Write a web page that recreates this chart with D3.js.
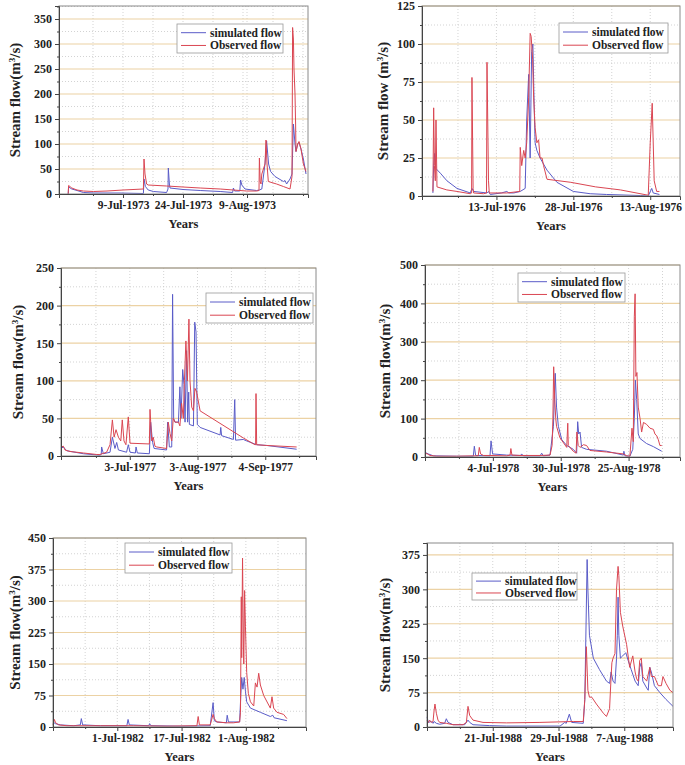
<!DOCTYPE html>
<html>
<head>
<meta charset="utf-8">
<script src="https://cdn.jsdelivr.net/npm/d3@7"></script>
<style>
  body { margin: 0; background: #fff; }
  svg { display: block; }
  text { font-family: "Liberation Serif", "Times New Roman", serif; font-weight: bold; fill: #222; }
</style>
</head>
<body>
<script>
// ---- data: [day since panel start, flow m3/s] ----
var ticks1973 = ['9-Jul-1973', '24-Jul-1973', '9-Aug-1973'];
var tickDays1973 = [16, 31, 47];
var yTicks1973 = [0, 50, 100, 150, 200, 250, 300, 350];
var obs1973 = [[2.3,0],[2.4,17],[2.9,14],[3.2,12],[4.5,8],[6.1,6],[8.6,5],[12,6],[16,8],[21.1,10],[21.25,70],[21.5,40],[21.9,20],[22.3,18],[26.9,16],[31,14],[35.3,12],[40.3,10],[43.6,8],[46.9,6],[49.4,6],[50.0,7],[50.1,72],[50.3,25],[50.5,20],[50.7,40],[51.5,60],[51.75,108],[52.0,60],[52.33,25],[54.4,20],[56.1,15],[57.75,10],[58.25,35],[58.4,333],[58.6,310],[58.75,250],[59,200],[59.15,140],[59.25,85],[59.67,100],[60,105],[60.5,90],[61.1,60],[61.75,45]];
var sim1973 = [[2.3,0],[2.4,14],[3.2,10],[4.5,7],[6.1,3],[8.6,2],[15,2],[21.1,1],[21.25,30],[21.6,15],[22.3,8],[23.6,5],[26.9,3],[27.25,10],[27.33,52],[27.6,20],[27.75,12],[31,9],[35.3,7],[40.3,5],[43.4,3],[43.6,12],[43.9,6],[45.2,6],[45.4,28],[45.7,18],[46.5,10],[49.4,7],[50.1,8],[50.7,10],[51.5,60],[51.9,106],[52.4,60],[52.9,45],[54,35],[56.1,25],[56.5,27],[56.9,20],[57.75,30],[58.25,40],[58.6,140],[59,100],[59.25,85],[59.67,100],[60,103],[60.5,90],[61.1,70],[61.75,40]];

var ticks1976 = ['13-Jul-1976', '28-Jul-1976', '13-Aug-1976'];
var tickDays1976 = [15, 30.5, 46];
var yTicks1976 = [0, 25, 50, 75, 100, 125];
var obs1976 = [[2.2,3],[2.35,58],[2.5,20],[2.68,10],[2.82,50],[3.02,6],[5.0,4],[7.05,3],[9.73,1.5],[10.0,2],[10.07,78],[10.3,5],[10.4,2],[12.4,1.5],[13.0,2],[13.1,88],[13.4,10],[13.56,2],[17.1,2],[19.7,3],[19.8,32],[20.1,20],[20.5,30],[20.8,25],[21.1,35],[21.5,65],[21.8,107],[22.0,105],[22.3,90],[22.5,65],[22.8,45],[23.15,35],[23.5,37],[23.8,25],[24.2,25],[24.5,20],[25.2,11],[30,9],[35,6],[40,4],[45.6,0.5],[46.0,35],[46.4,61],[46.8,10],[47.3,3],[47.85,3]];
var sim1976 = [[2.2,2],[2.35,20],[2.55,28],[2.82,18],[3.7,15],[5.03,10],[7.05,5],[9.73,2],[10.07,5],[10.4,3],[13.1,2],[13.4,3],[13.76,1],[16,2],[17.1,3],[17.5,2],[18.5,2],[19.8,3],[20.8,5],[21.1,50],[21.5,80],[21.8,25],[22.1,95],[22.35,100],[22.6,60],[22.8,35],[23.15,30],[23.8,25],[25.2,17],[27.2,9],[30.5,3],[33.9,1.5],[37.2,1],[44,0.3],[45.6,0],[46.3,5],[46.6,2],[47.85,1]];

var ticks1977 = ['3-Jul-1977', '3-Aug-1977', '4-Sep-1977'];
var tickDays1977 = [32, 63.5, 95];
var yTicks1977 = [0, 50, 100, 150, 200, 250];
var obs1977 = [[0,12],[1.09,13],[1.86,8],[4.19,6],[10.4,4],[16.6,2],[18.1,2],[21.2,5],[22.8,15],[23.9,48],[24.7,25],[25.6,35],[26.7,25],[27.8,20],[28.5,48],[29.3,20],[30.2,15],[31.3,52],[32.1,17],[41.1,16],[41.4,62],[42.2,20],[42.9,25],[43.7,13],[44.5,12],[49.1,10],[49.9,45],[50.7,30],[51.5,20],[52.2,50],[53.0,45],[54.6,45],[55.3,40],[56.1,70],[56.9,50],[57.4,100],[58.1,153],[58.8,100],[59.5,182],[60.0,100],[60.8,65],[61.6,60],[62.3,90],[63.1,85],[64.7,60],[84.8,24],[90.2,15],[90.5,15],[90.7,83],[91.0,15],[95.7,14],[109.6,12]];
var sim1977 = [[0,10],[1.09,12],[2.64,7],[10.4,3],[18.1,1],[18.7,2],[18.9,12],[19.7,3],[22.8,5],[23.9,25],[25.1,10],[25.9,18],[26.7,8],[30.5,5],[31.3,15],[32.1,5],[34.6,4],[34.9,12],[35.5,4],[41.1,3],[41.7,45],[42.6,18],[43.3,10],[49.1,8],[49.6,45],[50.4,12],[51.5,12],[51.9,215],[52.4,50],[53.0,45],[54.6,45],[55.3,92],[55.8,50],[56.6,115],[57.2,95],[57.7,45],[58.4,140],[58.9,45],[59.4,85],[59.7,42],[61.6,40],[62.2,178],[62.8,165],[63.4,42],[64.7,38],[74.0,28],[74.3,38],[74.7,27],[80.2,22],[80.8,75],[81.2,21],[84.8,22],[86.4,20],[91.0,15],[95.7,14],[109.6,9]];

var ticks1978 = ['4-Jul-1978', '30-Jul-1978', '25-Aug-1978'];
var tickDays1978 = [26, 52, 78];
var yTicks1978 = [0, 100, 200, 300, 400, 500];
var obs1978 = [[0,10],[0.9,8],[1.92,4],[4.47,2],[12.1,2],[18.5,3],[20.4,3],[20.8,25],[21.3,8],[22.4,4],[24.9,4],[31.3,3],[32.6,5],[32.9,22],[33.3,5],[36.4,4],[44.1,4],[47.9,5],[48.7,30],[49.0,100],[49.3,235],[49.7,150],[50.1,100],[50.4,80],[51.7,50],[54.3,25],[54.7,88],[54.9,30],[56.8,15],[57.9,10],[58.2,65],[58.7,30],[59.4,25],[60.7,32],[61.9,30],[63.2,17],[69.6,13],[76.0,8],[77.3,3],[78.5,2],[79.3,75],[79.8,40],[80.2,365],[80.5,425],[80.8,210],[81.2,220],[81.7,130],[82.4,100],[83.0,65],[83.7,90],[84.9,85],[86.2,75],[87.5,72],[88.1,60],[88.8,55],[89.4,45],[90.0,30],[90.7,30]];
var sim1978 = [[0,12],[1.28,8],[3.19,3],[12.1,2],[18.5,2],[18.9,28],[19.4,4],[24.9,3],[25.3,42],[25.9,8],[31.3,5],[36.7,4],[37.0,8],[37.7,3],[44.1,3],[44.7,10],[45.3,3],[47.9,5],[49.2,80],[49.6,160],[49.9,218],[50.4,130],[51.1,80],[52.4,45],[54.3,30],[56.8,20],[58.1,10],[58.5,92],[58.9,60],[59.4,65],[60.0,25],[61.9,20],[69.6,15],[76.0,5],[76.2,15],[76.6,3],[78.5,2],[79.6,20],[80.2,100],[80.6,200],[81.1,150],[81.7,60],[82.4,48],[84.9,35],[87.5,27],[90.7,15]];

var ticks1982 = ['1-Jul-1982', '17-Jul-1982', '1-Aug-1982'];
var tickDays1982 = [15.5, 31, 46.5];
var yTicks1982 = [0, 75, 150, 225, 300, 375, 450];
var obs1982 = [[0,5],[0.32,18],[0.64,10],[1.37,5],[3.37,3],[11.4,3],[19.4,3],[27.5,2],[34.7,3],[35.0,25],[35.3,5],[37.9,5],[38.6,30],[38.9,20],[39.5,12],[41.9,10],[43.5,10],[45.0,12],[45.2,35],[45.4,310],[45.5,165],[45.7,402],[45.9,200],[46.0,150],[46.2,325],[46.4,240],[46.7,130],[47.1,80],[47.6,60],[48.4,50],[48.8,105],[49.2,95],[49.6,128],[50.0,100],[50.8,75],[52.4,45],[52.8,72],[53.2,45],[54.0,35],[55.6,30],[56.4,20]];
var sim1982 = [[0,12],[0.56,8],[1.77,5],[4.98,3],[6.59,5],[6.83,20],[7.15,5],[11.4,3],[17.8,3],[18.1,18],[18.4,5],[23.1,3],[23.3,8],[23.6,3],[30.7,2],[37.9,3],[38.6,58],[38.9,15],[39.5,12],[41.8,10],[42.0,28],[42.3,12],[45.0,12],[45.3,80],[45.5,118],[45.8,90],[46.1,118],[46.4,85],[46.7,60],[47.6,45],[50.0,35],[52.4,25],[53.0,28],[53.3,22],[56.4,15]];

var ticks1988 = ['21-Jul-1988', '29-Jul-1988', '7-Aug-1988'];
var tickDays1988 = [8.5, 17, 25.5];
var yTicks1988 = [0, 75, 150, 225, 300, 375];
var obs1988 = [[0,15],[0.17,10],[0.34,15],[0.56,10],[0.78,12],[0.91,35],[1.03,50],[1.21,30],[1.42,15],[1.64,10],[2.5,8],[3.36,5],[4.66,5],[5.09,10],[5.3,45],[5.52,25],[5.95,15],[7.24,10],[10.3,9],[14.6,10],[18.9,12],[20.2,12],[20.4,60],[20.6,175],[20.8,80],[21.0,65],[21.3,65],[21.9,50],[22.8,30],[23.2,23],[23.6,40],[23.8,110],[23.9,140],[24.05,150],[24.3,160],[24.5,300],[24.7,350],[24.8,330],[25.0,250],[25.3,220],[25.8,180],[26.2,130],[26.6,155],[26.9,120],[27.1,105],[27.3,100],[27.5,145],[27.7,150],[27.9,110],[28.4,100],[28.8,130],[29.0,110],[29.4,110],[29.9,90],[30.3,90],[30.5,110],[30.9,95],[31.4,80],[31.8,75]];
var sim1988 = [[0,22],[0.17,10],[0.56,12],[0.78,8],[0.91,12],[1.21,8],[1.64,6],[2.28,8],[2.5,18],[2.72,10],[3.36,5],[4.87,5],[5.3,15],[5.52,10],[5.95,5],[8.1,3],[10.3,2],[17.2,2],[17.8,10],[18.0,8],[18.4,28],[18.7,10],[20.2,8],[20.4,60],[20.7,365],[20.8,300],[21.0,200],[21.5,150],[22.3,125],[23.2,100],[23.6,95],[23.8,120],[24.05,100],[24.3,95],[24.5,150],[24.6,200],[24.7,283],[24.8,200],[25.0,150],[25.3,155],[25.7,162],[26.0,145],[26.4,125],[26.9,100],[27.3,90],[27.5,130],[27.7,140],[27.9,100],[28.4,85],[28.6,80],[28.8,130],[29.0,120],[29.4,90],[30.1,75],[30.9,60],[31.8,45]];

// ---- layout ----
var panels = [
  {obs: obs1973, sim: sim1973, labels: ticks1973, tickDays: tickDays1973, yTicks: yTicks1973, xMax: 62.25, yMax: 376,
   box: [59, 6, 308, 194], titleX: 15, title: 'Stream flow(m', legend: [177, 24, 106, 29]},
  {obs: obs1976, sim: sim1976, labels: ticks1976, tickDays: tickDays1976, yTicks: yTicks1976, xMax: 52, yMax: 125,
   box: [422, 6, 680, 196], titleX: 383, title: 'Stream flow (m', legend: [559, 23, 109, 30]},
  {obs: obs1977, sim: sim1977, labels: ticks1977, tickDays: tickDays1977, yTicks: yTicks1977, xMax: 118.6, yMax: 250,
   box: [61, 268, 316, 456], titleX: 18, title: 'Stream flow(m', legend: [206, 293, 107, 30]},
  {obs: obs1978, sim: sim1978, labels: ticks1978, tickDays: tickDays1978, yTicks: yTicks1978, xMax: 97.7, yMax: 500,
   box: [425, 265, 680, 457], titleX: 385, title: 'Stream flow(m', legend: [518, 273, 107, 29]},
  {obs: obs1982, sim: sim1982, labels: ticks1982, tickDays: tickDays1982, yTicks: yTicks1982, xMax: 61, yMax: 450,
   box: [53, 538, 306, 727], titleX: 15, title: 'Stream flow(m', legend: [125, 543, 107, 30]},
  {obs: obs1988, sim: sim1988, labels: ticks1988, tickDays: tickDays1988, yTicks: yTicks1988, xMax: 31.8, yMax: 401,
   box: [427, 543, 673, 727], titleX: 385, title: 'Stream flow(m', legend: [472, 573, 105, 27]}
];

var obsColor = '#da4652', simColor = '#5a5cc8';

var svg = d3.select('body').append('svg')
  .attr('width', 685)
  .attr('height', 765);

panels.forEach(function(p) {
  var L = p.box[0], T = p.box[1], R = p.box[2], B = p.box[3];
  var x = d3.scaleLinear().domain([0, p.xMax]).range([L, R]);
  var y = d3.scaleLinear().domain([0, p.yMax]).range([B, T]);
  var g = svg.append('g');

  // minor positions: midpoints + half-steps beyond
  var step = p.tickDays[1] - p.tickDays[0];
  var xMinor = [];
  for (var d = p.tickDays[0] - step / 2; d < p.xMax; d += step / 2) {
    if (d > 0 && p.tickDays.indexOf(d) < 0) xMinor.push(d);
  }
  var yStep = p.yTicks[1] - p.yTicks[0];
  var yMinor = [];
  for (var v = yStep / 2; v < p.yMax; v += yStep) yMinor.push(v);

  // vertical grid (dotted grey)
  g.selectAll('.vg').data(p.tickDays.concat(xMinor)).enter().append('line')
    .attr('x1', function(d) { return x(d); }).attr('x2', function(d) { return x(d); })
    .attr('y1', T).attr('y2', B)
    .attr('stroke', '#c8c8c8').attr('stroke-width', 0.8).attr('stroke-dasharray', '1,2');
  // horizontal minor grid (dotted grey)
  g.selectAll('.hm').data(yMinor).enter().append('line')
    .attr('x1', L).attr('x2', R)
    .attr('y1', function(d) { return y(d); }).attr('y2', function(d) { return y(d); })
    .attr('stroke', '#c8c8c8').attr('stroke-width', 0.8).attr('stroke-dasharray', '1,2');
  // horizontal major grid (tan)
  g.selectAll('.hg').data(p.yTicks.filter(function(d) { return d > 0; })).enter().append('line')
    .attr('x1', L).attr('x2', R)
    .attr('y1', function(d) { return y(d); }).attr('y2', function(d) { return y(d); })
    .attr('stroke', '#ecd2a4').attr('stroke-width', 1.2);

  var line = d3.line()
    .x(function(d) { return x(d[0]); })
    .y(function(d) { return y(d[1]); });

  g.append('path').datum(p.sim).attr('d', line)
    .attr('fill', 'none').attr('stroke', simColor).attr('stroke-width', 1);
  g.append('path').datum(p.obs).attr('d', line)
    .attr('fill', 'none').attr('stroke', obsColor).attr('stroke-width', 1);

  // frame
  g.append('rect').attr('x', L).attr('y', T).attr('width', R - L).attr('height', B - T)
    .attr('fill', 'none').attr('stroke', '#8a8a8a').attr('stroke-width', 1);

  // axes
  var yAxis = d3.axisLeft(y).tickValues(p.yTicks).tickSize(4).tickPadding(3);
  var ya = g.append('g').attr('transform', 'translate(' + L + ',0)').call(yAxis);
  ya.select('.domain').attr('stroke', '#444');
  ya.selectAll('.tick line').attr('stroke', '#444');
  ya.selectAll('text').style('font-size', '12px').style('font-family', '"Liberation Serif", serif').style('font-weight', 'bold').attr('fill', '#222');
  g.append('g').attr('transform', 'translate(' + L + ',0)')
    .call(d3.axisLeft(y).tickValues(yMinor).tickSize(2).tickFormat(''))
    .call(function(s) { s.select('.domain').remove(); s.selectAll('line').attr('stroke', '#444'); });

  var xAxis = d3.axisBottom(x).tickValues(p.tickDays).tickSize(4).tickPadding(3)
    .tickFormat(function(d, i) { return p.labels[i]; });
  var xa = g.append('g').attr('transform', 'translate(0,' + B + ')').call(xAxis);
  xa.select('.domain').attr('stroke', '#444');
  xa.selectAll('.tick line').attr('stroke', '#444');
  xa.selectAll('text').style('font-size', '11.5px').style('font-family', '"Liberation Serif", serif').style('font-weight', 'bold').attr('fill', '#222');
  g.append('g').attr('transform', 'translate(0,' + B + ')')
    .call(d3.axisBottom(x).tickValues(xMinor).tickSize(2).tickFormat(''))
    .call(function(s) { s.select('.domain').remove(); s.selectAll('line').attr('stroke', '#444'); });

  // titles
  var yt = g.append('text')
    .attr('transform', 'translate(' + p.titleX + ',' + ((T + B) / 2) + ') rotate(-90)')
    .attr('text-anchor', 'middle').attr('dy', '0.35em')
    .style('font-size', '15px');
  yt.append('tspan').text(p.title);
  yt.append('tspan').attr('dy', '-5').style('font-size', '9px').text('3');
  yt.append('tspan').attr('dy', '5').text('/s)');

  g.append('text').attr('x', (L + R) / 2).attr('y', B + 34)
    .attr('text-anchor', 'middle').style('font-size', '12.5px').text('Years');

  // legend
  var lg = p.legend;
  g.append('rect').attr('x', lg[0]).attr('y', lg[1]).attr('width', lg[2]).attr('height', lg[3])
    .attr('fill', '#fff').attr('stroke', '#999').attr('stroke-width', 0.8);
  var items = [['simulated flow', simColor], ['Observed flow', obsColor]];
  items.forEach(function(it, i) {
    var yy = lg[1] + lg[3] * (i === 0 ? 0.3 : 0.74);
    g.append('line').attr('x1', lg[0] + 4).attr('x2', lg[0] + 29).attr('y1', yy).attr('y2', yy)
      .attr('stroke', it[1]).attr('stroke-width', 1);
    g.append('text').attr('x', lg[0] + 33).attr('y', yy).attr('dy', '0.35em')
      .style('font-size', '11.5px').text(it[0]);
  });
});
</script>
</body>
</html>
